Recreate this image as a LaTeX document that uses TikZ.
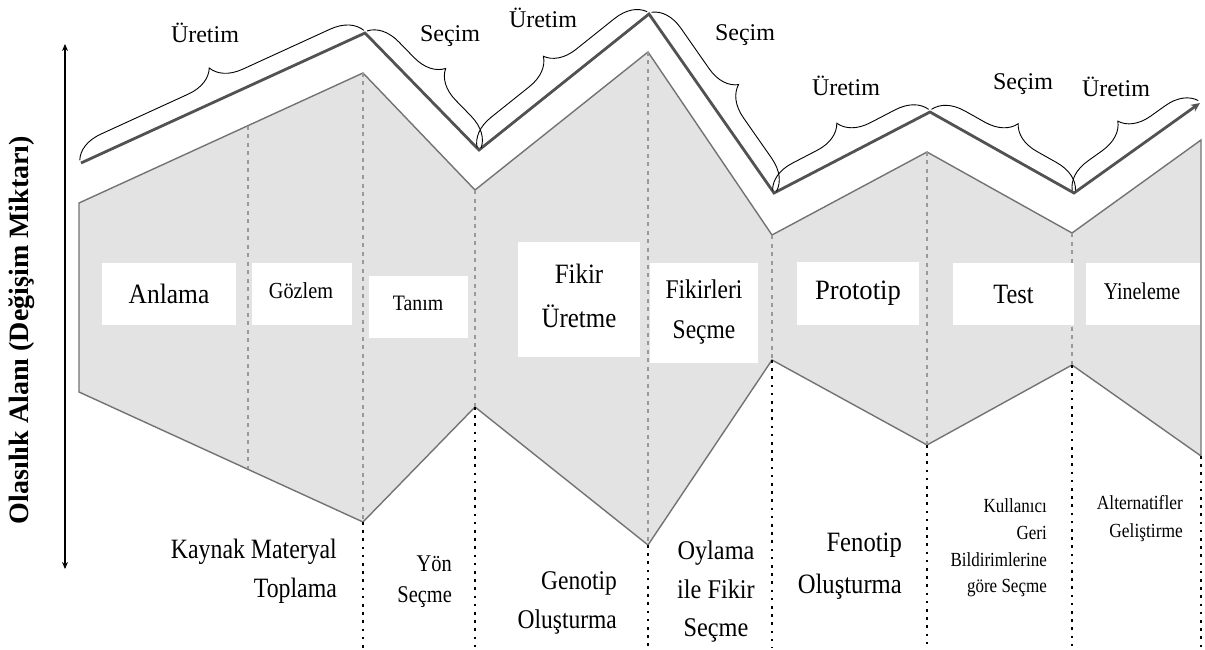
\documentclass[tikz,border=0pt]{standalone}
\usepackage{fontspec}
\setmainfont{Liberation Serif}
\usetikzlibrary{decorations.pathreplacing,arrows.meta}
\newcommand\fsz[2]{\fontsize{#1}{#2}\selectfont}

\begin{document}
\begin{tikzpicture}[x=1pt,y=-1pt,
  area/.style={fill=black!11, draw=black!55, line width=1.4pt, line join=miter},
  guide/.style={draw=black!40, line width=1.8pt, dash pattern=on 4pt off 4.5pt},
  drop/.style={draw=black, line width=1.8pt, dash pattern=on 2.6pt off 5.6pt},
  route/.style={draw=black!68, line width=2.8pt, line join=miter},
  bracket/.style={draw=black, line width=0.9pt, decorate,
    decoration={brace, amplitude=30pt, raise=3pt}},
  phase/.style={font=\fsz{24}{28}},
  box/.style={fill=white, inner sep=0pt},
  lbl/.style={inner sep=0pt},
  axis/.style={draw=black, line width=1.3pt,
    {Stealth[length=7pt,width=6pt]}-{Stealth[length=7pt,width=6pt]}}
]
\useasboundingbox (0,0) rectangle (1205,650);

% outline of the possibility area
\coordinate (T0) at (79,203);   \coordinate (B0) at (79,392);
\coordinate (T1) at (363,73);   \coordinate (B1) at (363,522);
\coordinate (T2) at (475,190);  \coordinate (B2) at (475,407);
\coordinate (T3) at (648,52);   \coordinate (B3) at (648,545);
\coordinate (T4) at (772,235);  \coordinate (B4) at (772,360);
\coordinate (T5) at (927,152);  \coordinate (B5) at (927,445);
\coordinate (T6) at (1072,233); \coordinate (B6) at (1072,365);
\coordinate (T7) at (1201,140); \coordinate (B7) at (1201,456);
\coordinate (MT) at (248,125.6); \coordinate (MB) at (248,469.4);
\coordinate (floor) at (0,648);

\path[area] (T0) -- (T1) -- (T2) -- (T3) -- (T4) -- (T5) -- (T6) -- (T7)
  -- (B7) -- (B6) -- (B5) -- (B4) -- (B3) -- (B2) -- (B1) -- (B0) -- cycle;

% phase separators inside the area
\foreach \i in {1,...,6} \draw[guide] (T\i) -- (B\i);
\draw[guide] (MT) -- (MB);

% phase separators below the area
\foreach \i in {1,...,7} \draw[drop] (B\i) -- (B\i |- floor);

% phase boxes
\node[box, minimum width=134pt, minimum height=62pt] (anl) at (169,294) {};
\node[lbl, font=\fsz{28}{32}, xscale=0.91] (anlT) at (anl) {Anlama};
\node[box, minimum width=100pt, minimum height=62pt] (goz) at (302,294) {};
\node[lbl, font=\fsz{23}{28}, xscale=0.88] (gozT) at (301,291) {Gözlem};
\node[box, minimum width=99pt, minimum height=62pt] (tan) at (418.5,307) {};
\node[lbl, font=\fsz{22}{26}, xscale=0.9] (tanT) at (418,303) {Tanım};
\node[box, minimum width=122pt, minimum height=115pt] (fik) at (579,299.5) {};
\node[lbl, font=\fsz{28}{44}, xscale=0.89, align=center] (fikT) at (579,296) {Fikir\\Üretme};
\node[box, minimum width=108pt, minimum height=100pt] (sec) at (704,313) {};
\node[lbl, font=\fsz{27}{40}, xscale=0.87, align=center] (secT) at (704,312) {Fikirleri\\Seçme};
\node[box, minimum width=122pt, minimum height=63pt] (pro) at (858,293.5) {};
\node[lbl, font=\fsz{28}{32}, xscale=0.95] (proT) at (pro) {Prototip};
\node[box, minimum width=121pt, minimum height=62pt] (tst) at (1013.5,294) {};
\node[lbl, font=\fsz{28}{32}, xscale=0.87] (tstT) at (tst) {Test};
\node[box, minimum width=114pt, minimum height=62pt] (yin) at (1143,294) {};
\node[lbl, font=\fsz{24}{28}, xscale=0.83] (yinT) at (1142,291) {Yineleme};

% activities below each phase
\node[lbl, font=\fsz{28}{39}, xscale=0.85, align=right, anchor=east] (kay) at (337,571) {Kaynak Materyal\\Toplama};
\node[lbl, font=\fsz{24}{31}, xscale=0.85, align=right, anchor=east] (yon) at (452,582) {Yön\\Seçme};
\node[lbl, font=\fsz{27}{39}, xscale=0.87, align=right, anchor=east] (gen) at (617,603) {Genotip\\Oluşturma};
\node[lbl, font=\fsz{27}{38.5}, xscale=0.9, align=center] (oyl) at (716,592) {Oylama\\ile Fikir\\Seçme};
\node[lbl, font=\fsz{28}{42}, xscale=0.88, align=right, anchor=east] (fen) at (902,566) {Fenotip\\Oluşturma};
\node[lbl, font=\fsz{20}{26.7}, xscale=0.85, align=right, anchor=east] (kul) at (1047,548) {Kullanıcı\\Geri\\Bildirimlerine\\göre Seçme};
\node[lbl, font=\fsz{20}{28}, xscale=0.87, align=right, anchor=east] (alt) at (1183,519) {Alternatifler\\Geliştirme};

% divergent / convergent route
\coordinate (P0) at (81,163);
\coordinate (P1) at (365,33);
\coordinate (P2) at (479,150);
\coordinate (P3) at (649,14);
\coordinate (P4) at (774,193);
\coordinate (P5) at (930,112);
\coordinate (P6) at (1074,193);
\coordinate (P7) at (1200,103);
\draw[route, -{Stealth[length=9pt,width=8pt]}] (P0) -- (P1) -- (P2) -- (P3) -- (P4) -- (P5) -- (P6) -- (P7);

% braces over each stretch of the route
\foreach \a/\b in {0/1,1/2,2/3,3/4,4/5,5/6,6/7} \draw[bracket] (P\a) -- (P\b);

\node[phase] (u1) at (205,33) {Üretim};
\node[phase] (s1) at (450,36) {Seçim};
\node[phase] (u2) at (543,18) {Üretim};
\node[phase] (s2) at (745,35) {Seçim};
\node[phase] (u3) at (846,86) {Üretim};
\node[phase] (s3) at (1023,84) {Seçim};
\node[phase] (u4) at (1116,87) {Üretim};

% vertical axis
\coordinate (axtop) at (65,44);
\coordinate (axbot) at (65,569);
\draw[axis] (axbot) -- (axtop);
\node[lbl, rotate=90, font=\bfseries\fsz{28}{32}] (axT) at (22,330) {Olasılık Alanı (Değişim Miktarı)};
\end{tikzpicture}
\end{document}
